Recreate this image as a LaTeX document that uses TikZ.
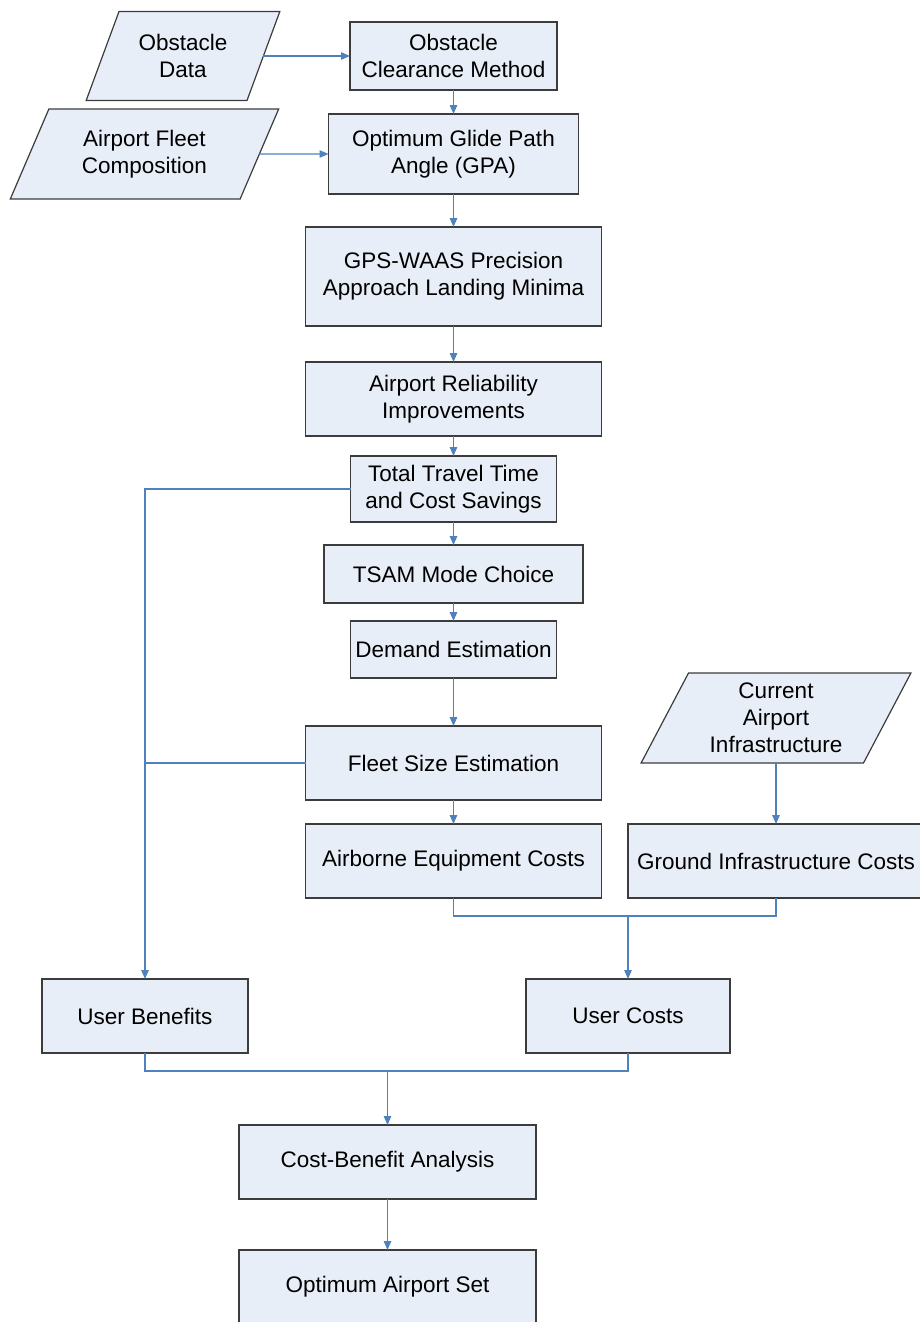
\documentclass[tikz,border=0pt]{standalone}
\usepackage{fontspec}
\setmainfont{Liberation Sans}
\usetikzlibrary{shapes.geometric, arrows.meta, positioning}
\definecolor{boxfill}{RGB}{232,238,247}
\definecolor{boxline}{RGB}{60,60,60}
\definecolor{linkblue}{RGB}{79,129,189}

\begin{document}
\begin{tikzpicture}[
    x=1pt, y=-1pt,
    process/.style={rectangle, draw=boxline, fill=boxfill, line width=1.2pt, outer sep=0pt, align=center, inner sep=2pt, font=\fontsize{22.5}{27}\selectfont},
    datainput/.style={trapezium, trapezium left angle=63.4, trapezium right angle=116.6, trapezium stretches=true, draw=boxline, fill=boxfill, line width=1.2pt, outer sep=0pt, align=center, inner sep=2pt, font=\fontsize{22.5}{27}\selectfont},
    link/.style={draw=linkblue, line width=1.2pt},
    arrow/.style={link, -{Triangle[length=9pt, width=7.5pt]}},
]
\useasboundingbox (0,0) rectangle (920,1322);
\clip (0,0) rectangle (920,1322);

% Inputs on the left
\node[datainput, minimum width=194pt, minimum height=89pt] (obsdata) at (183,56) {Obstacle\\Data};
\node[datainput, minimum width=269pt, minimum height=90pt] (fleetmix) at (144.5,154) {Airport Fleet\\Composition};

% Main column
\node[process, minimum width=207pt, minimum height=68pt] (clearance) at (453.5,56) {Obstacle\\Clearance Method};
\node[process, minimum width=250pt, minimum height=80pt, below=24pt of clearance] (gpa) {Optimum Glide Path\\Angle (GPA)};
\node[process, minimum width=296pt, minimum height=99pt, below=33pt of gpa] (minima) {GPS-WAAS Precision\\Approach Landing Minima};
\node[process, minimum width=296pt, minimum height=74pt, below=36pt of minima] (reliab) {Airport Reliability\\Improvements};
\node[process, minimum width=206pt, minimum height=66pt, below=20pt of reliab] (savings) {Total Travel Time\\and Cost Savings};
\node[process, minimum width=259pt, minimum height=58pt, below=23pt of savings] (tsam) {TSAM Mode Choice};
\node[process, minimum width=206pt, minimum height=57pt, below=18pt of tsam] (demand) {Demand Estimation};
\node[process, minimum width=296pt, minimum height=74pt, below=48pt of demand] (fleetsize) {Fleet Size Estimation};
\node[process, minimum width=296pt, minimum height=74pt, below=24pt of fleetsize] (airborne) {Airborne Equipment Costs};

% Ground side
\node[datainput, minimum width=270pt, minimum height=90pt] (infra) at (776,718) {Current\\Airport\\Infrastructure};
\node[process, minimum width=296pt, minimum height=74pt] (ground) at (776,861) {Ground Infrastructure Costs};

% Benefits and costs
\node[process, minimum width=206pt, minimum height=74pt] (benefits) at (145,1016) {User Benefits};
\node[process, minimum width=204pt, minimum height=74pt] (costs) at (628,1016) {User Costs};
\node[process, minimum width=297pt, minimum height=74pt] (cba) at (387.5,1162) {Cost-Benefit Analysis};
\node[process, minimum width=297pt, minimum height=74pt, below=51pt of cba] (airportset) {Optimum Airport Set};

\coordinate (costjoin) at (628,916);
\coordinate (userjoin) at (387.5,1071);

% Connectors
\draw[arrow] (obsdata.east) -- (clearance.west);
\draw[arrow] (fleetmix.east) -- (gpa.west);
\draw[arrow] (clearance) -- (gpa);
\draw[arrow] (gpa) -- (minima);
\draw[arrow] (minima) -- (reliab);
\draw[arrow] (reliab) -- (savings);
\draw[arrow] (savings) -- (tsam);
\draw[arrow] (tsam) -- (demand);
\draw[arrow] (demand) -- (fleetsize);
\draw[arrow] (fleetsize) -- (airborne);
\draw[arrow] (infra) -- (ground);
\draw[arrow] (savings.west) -| (benefits.north);
\draw[link] (fleetsize.west) -- (fleetsize.west -| benefits.north);
\draw[link] (airborne.south) |- (costjoin) -| (ground.south);
\draw[arrow] (costjoin) -- (costs.north);
\draw[link] (benefits.south) |- (userjoin) -| (costs.south);
\draw[arrow] (userjoin) -- (cba.north);
\draw[arrow] (cba) -- (airportset);
\end{tikzpicture}
\end{document}
